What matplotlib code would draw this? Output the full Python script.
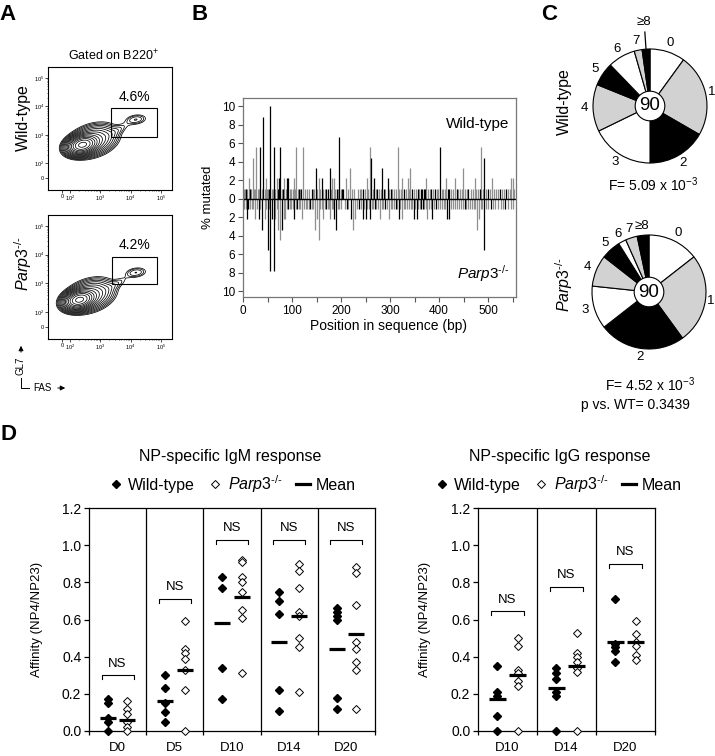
import numpy as np
import matplotlib
matplotlib.use('Agg')
import matplotlib.pyplot as plt
from matplotlib.lines import Line2D
from matplotlib.patches import Rectangle, Circle

plt.rcParams['font.family'] = ['Liberation Sans', 'DejaVu Sans']
plt.rcParams['mathtext.fontset'] = 'custom'
plt.rcParams['mathtext.rm'] = 'Liberation Sans'
plt.rcParams['mathtext.it'] = 'Liberation Sans:italic'
plt.rcParams['mathtext.bf'] = 'Liberation Sans:bold'

KO = r'$\mathit{Parp3}^{\mathit{\text{-/-}}}$'

# ---------------- A: flow plots (axis units: 2 = 10^2, 3 = 10^3 ...)
flow_xticks = [1.73, 2, 3, 4, 5]
flow_yticks = [1.48, 2, 3, 4, 5]
flow_ticklabels = ['0', '$10^2$', '$10^3$', '$10^4$', '$10^5$']
wt_main = [2.55, 2.70]
ko_main = [2.45, 2.48]
wt_gc = [4.18, 3.54]
ko_gc = [4.18, 3.38]
wt_gate = [3.36, 2.93, 4.86, 3.93]
ko_gate = [3.39, 2.97, 4.86, 3.93]
gate_pct = ['4.6%', '4.2%']

# ---------------- B: mutations per position (number of the 90 sequences)
n_seq = 90
wt_black = [(7, 1), (15, 1), (35, 5), (41, 8), (53, 1), (56, 9), (63, 5), (71, 1), (73, 2), (76, 5),
            (81, 1), (89, 2), (92, 2), (114, 1), (119, 1), (140, 1), (148, 3), (161, 2), (170, 1), (173, 1),
            (177, 3), (191, 1), (196, 6), (202, 1), (205, 1), (245, 1), (262, 4), (268, 2), (274, 1), (284, 3),
            (287, 1), (295, 2), (302, 1), (329, 1), (345, 1), (357, 1), (363, 1), (366, 1), (369, 1), (371, 1),
            (384, 1), (391, 1), (401, 5), (418, 1), (421, 1), (436, 1), (460, 1), (483, 1), (492, 4), (499, 1),
            (525, 1), (537, 1)]
wt_gray = [(3, 1), (5, 1), (9, 1), (12, 2), (17, 1), (20, 4), (23, 1), (25, 1), (27, 5), (30, 1),
           (32, 1), (38, 1), (44, 1), (46, 2), (49, 1), (51, 1), (59, 1), (61, 1), (66, 1), (69, 2),
           (79, 1), (84, 2), (87, 1), (95, 1), (98, 1), (101, 1), (104, 2), (107, 1), (109, 5), (112, 1),
           (117, 1), (122, 5), (126, 1), (130, 1), (134, 1), (143, 1), (145, 1), (151, 1), (155, 2), (158, 1),
           (164, 1), (167, 1), (180, 1), (182, 2), (185, 2), (188, 1), (193, 1), (199, 1), (210, 2), (214, 1),
           (218, 3), (222, 1), (226, 1), (234, 1), (238, 1), (241, 1), (248, 1), (253, 2), (256, 1), (260, 5),
           (265, 1), (271, 1), (278, 1), (281, 1), (290, 1), (298, 1), (305, 1), (309, 1), (313, 1), (316, 5),
           (319, 1), (322, 1), (325, 2), (332, 1), (336, 2), (339, 1), (341, 3), (349, 1), (353, 1), (360, 1),
           (374, 2), (378, 1), (381, 1), (388, 1), (395, 1), (398, 1), (405, 1), (409, 1), (412, 1), (415, 2),
           (424, 1), (428, 1), (432, 2), (439, 1), (442, 1), (446, 1), (449, 3), (453, 1), (457, 1), (466, 1),
           (469, 1), (473, 2), (476, 1), (480, 1), (486, 5), (489, 1), (495, 1), (503, 1), (509, 2), (513, 1),
           (517, 1), (521, 1), (529, 1), (533, 1), (541, 1), (544, 1), (546, 2), (550, 2), (553, 1)]
ko_black = [(8, 2), (11, 1), (32, 2), (39, 3), (50, 5), (56, 7), (59, 2), (63, 7), (80, 3), (92, 1),
            (104, 2), (111, 1), (137, 1), (170, 1), (186, 2), (189, 3), (212, 1), (221, 2), (237, 1), (244, 2),
            (251, 2), (260, 2), (269, 1), (290, 1), (312, 1), (318, 2), (348, 2), (354, 2), (364, 1), (367, 1),
            (386, 2), (393, 1), (416, 2), (421, 2), (452, 1), (492, 5), (505, 1), (535, 1)]
ko_gray = [(3, 1), (6, 1), (14, 1), (18, 1), (21, 1), (25, 2), (28, 1), (35, 1), (44, 2), (47, 1),
           (53, 1), (66, 2), (69, 1), (72, 3), (76, 4), (83, 2), (86, 2), (89, 1), (95, 1), (98, 1),
           (101, 1), (108, 1), (114, 1), (117, 1), (121, 2), (125, 1), (128, 1), (131, 1), (134, 1), (140, 1),
           (143, 1), (146, 3), (150, 2), (155, 4), (158, 1), (161, 1), (164, 2), (167, 1), (173, 1), (176, 1),
           (178, 2), (181, 1), (183, 1), (193, 1), (196, 1), (200, 1), (208, 1), (215, 1), (224, 3), (229, 2),
           (233, 1), (240, 1), (247, 1), (254, 1), (257, 1), (263, 1), (266, 1), (272, 1), (276, 1), (279, 2),
           (283, 1), (286, 1), (293, 1), (298, 2), (302, 1), (305, 1), (309, 1), (315, 1), (321, 1), (325, 2),
           (328, 1), (331, 1), (335, 1), (338, 1), (342, 1), (345, 1), (351, 1), (357, 1), (361, 1), (370, 1),
           (373, 1), (376, 2), (380, 1), (383, 1), (390, 1), (398, 1), (402, 1), (406, 1), (410, 1), (413, 1),
           (425, 1), (428, 1), (432, 1), (436, 1), (440, 1), (444, 1), (448, 1), (456, 1), (460, 1), (464, 1),
           (468, 1), (471, 1), (474, 1), (478, 3), (481, 2), (485, 1), (488, 1), (496, 1), (500, 1), (510, 1),
           (515, 1), (520, 1), (527, 1), (531, 1), (540, 1), (546, 1), (550, 1)]

# ---------------- C: mutations per sequence
pie_labels = ['0', '1', '2', '3', '4', '5', '6', '7', '≥8']
wt_mut = [9, 21, 15, 16, 12, 6, 7, 2, 2]
ko_mut = [13, 23, 22, 11, 8, 5, 2, 3, 3]
wt_F = r'F= 5.09 x 10$^{-3}$'
ko_F = r'F= 4.52 x 10$^{-3}$'
ko_p = 'p vs. WT= 0.3439'

# ---------------- D: affinity
igm_days = ['D0', 'D5', 'D10', 'D14', 'D20']
igm_wt = [[0.17, 0.15, 0.07, 0.05, 0.0],
          [0.30, 0.23, 0.15, 0.10, 0.05],
          [0.83, 0.77, 0.34, 0.17],
          [0.75, 0.70, 0.63, 0.22, 0.11],
          [0.66, 0.64, 0.62, 0.60, 0.18, 0.12]]
igm_ko = [[0.16, 0.12, 0.09, 0.05, 0.02, 0.0],
          [0.59, 0.44, 0.42, 0.39, 0.33, 0.22, 0.0],
          [0.92, 0.91, 0.83, 0.80, 0.75, 0.65, 0.61, 0.31],
          [0.90, 0.86, 0.77, 0.64, 0.62, 0.50, 0.45, 0.21],
          [0.88, 0.85, 0.68, 0.48, 0.44, 0.37, 0.33, 0.12]]
igm_wt_mean = [0.07, 0.16, 0.58, 0.48, 0.44]
igm_ko_mean = [0.06, 0.33, 0.72, 0.62, 0.52]
igm_ns = [0.30, 0.71, 1.03, 1.03, 1.03]

igg_days = ['D10', 'D14', 'D20']
igg_wt = [[0.35, 0.21, 0.19, 0.08, 0.0],
          [0.34, 0.31, 0.28, 0.21, 0.19, 0.0],
          [0.71, 0.47, 0.45, 0.43, 0.37]]
igg_ko = [[0.50, 0.46, 0.33, 0.31, 0.27, 0.24, 0.0],
          [0.53, 0.42, 0.40, 0.37, 0.34, 0.32, 0.0],
          [0.59, 0.52, 0.48, 0.46, 0.41, 0.38]]
igg_wt_mean = [0.17, 0.23, 0.48]
igg_ko_mean = [0.30, 0.35, 0.48]
igg_ns = [0.645, 0.775, 0.90]

W, H = 715, 756
fig = plt.figure(figsize=(W / 100, H / 100), dpi=100)


def box(x0, y0, x1, y1):
    return fig.add_axes([x0 / W, 1 - y1 / H, (x1 - x0) / W, (y1 - y0) / H])


def ftext(x, y, s, **kw):
    kw.setdefault('ha', 'center')
    kw.setdefault('va', 'center')
    fig.text(x / W, 1 - y / H, s, **kw)


for lab, x, y in [('A', 8, 15), ('B', 200, 15), ('C', 549, 15), ('D', 8, 435)]:
    ftext(x, y, lab, fontsize=16, fontweight='bold')


# ---------------- panel A
def gauss2(U, V, cx, cy, sx, sy, ang):
    a = np.deg2rad(ang)
    du, dv = U - cx, V - cy
    p = du * np.cos(a) + dv * np.sin(a)
    q = -du * np.sin(a) + dv * np.cos(a)
    return np.exp(-0.5 * ((p / sx) ** 2 + (q / sy) ** 2))


def flow(ax, main, gc, gate, pct):
    U, V = np.meshgrid(np.linspace(1.0, 5.5, 400), np.linspace(0.9, 5.5, 400))
    Z = gauss2(U, V, main[0] - 0.15, main[1] - 0.05, 0.24, 0.15, 15)
    Z += 0.15 * gauss2(U, V, main[0] + 0.2, main[1] + 0.1, 0.4, 0.25, 20)
    Z += 0.012 * gauss2(U, V, (main[0] + gc[0]) / 2 + 0.2, (main[1] + gc[1]) / 2 + 0.05, 0.3, 0.1, 30)
    Z += 0.022 * gauss2(U, V, gc[0], gc[1], 0.22, 0.11, 8)
    ax.contour(U, V, Z, levels=np.geomspace(0.008, 0.95, 15), colors='k', linewidths=0.55)
    ax.add_patch(Rectangle((gate[0], gate[1]), gate[2] - gate[0], gate[3] - gate[1],
                           fill=False, lw=0.8, ec='k'))
    ax.text(4.14, 4.32, pct, ha='center', va='center', fontsize=10)
    ax.set_xlim(1.27, 5.37)
    ax.set_ylim(1.07, 5.38)
    ax.set_xticks(flow_xticks, flow_ticklabels)
    ax.set_yticks(flow_yticks, flow_ticklabels)
    minor = [d + np.log10(k) for d in (2, 3, 4) for k in range(2, 10)]
    ax.set_xticks(minor, minor=True)
    ax.set_yticks(minor, minor=True)
    ax.tick_params(labelsize=4, length=2, width=0.5, pad=1)
    ax.tick_params(which='minor', length=1, width=0.4)
    for s in ax.spines.values():
        s.set_linewidth(0.8)


axA1 = box(48, 67, 172, 190)
flow(axA1, wt_main, wt_gc, wt_gate, gate_pct[0])
axA2 = box(48, 215, 172, 339)
flow(axA2, ko_main, ko_gc, ko_gate, gate_pct[1])
ftext(113, 56, r'Gated on B220$^{+}$', fontsize=9)
ftext(23, 118, 'Wild-type', fontsize=11.5, rotation=90)
ftext(23, 264, KO, fontsize=11.5, rotation=90)
ftext(21, 366, 'GL7', fontsize=7, rotation=90)
ftext(42, 388, 'FAS', fontsize=7)
fig.add_artist(Line2D([21 / W, 21 / W, 29 / W], [1 - 378 / H, 1 - 388 / H, 1 - 388 / H], color='k', lw=0.7))
plt.annotate('', xy=(21, H - 343), xytext=(21, H - 355), xycoords='figure pixels',
             arrowprops=dict(arrowstyle='-|>', lw=0.7, color='k', mutation_scale=7))
plt.annotate('', xy=(68, H - 388), xytext=(55, H - 388), xycoords='figure pixels',
             arrowprops=dict(arrowstyle='-|>', lw=0.7, color='k', mutation_scale=7))

# ---------------- panel B
axB = box(243, 98, 516, 297)
gray = '#8f8f8f'
for series, sign, col in [(wt_gray, 1, gray), (ko_gray, -1, gray), (wt_black, 1, 'k'), (ko_black, -1, 'k')]:
    pos = np.array([p for p, n in series])
    pct = np.array([n for p, n in series]) * 100.0 / n_seq
    axB.vlines(pos, 0, sign * pct, colors=col, lw=0.9)
axB.axhline(0, color='k', lw=1.0)
axB.set_xlim(0, 557)
axB.set_ylim(-10.6, 10.9)
axB.set_xticks(range(0, 501, 100))
axB.set_xticks(list(range(50, 551, 100)), minor=True)
yt = list(range(-10, 11, 2))
axB.set_yticks(yt, [str(abs(v)) for v in yt])
axB.tick_params(which='both', direction='out', length=3.5, width=0.8, color='#555555', labelsize=8.5, pad=2)
for s in axB.spines.values():
    s.set_color('#777777')
    s.set_linewidth(0.9)
axB.text(0.975, 0.87, 'Wild-type', transform=axB.transAxes, ha='right', va='center', fontsize=11)
axB.text(0.975, 0.12, KO, transform=axB.transAxes, ha='right', va='center', fontsize=11)
ftext(208, 197, '% mutated', fontsize=9.5, rotation=90)
ftext(388, 326, 'Position in sequence (bp)', fontsize=10)

# ---------------- panel C
pie_colors = ['white', '#d2d2d2', 'black'] * 3


def pie(cx, cy, counts, leader):
    r = 57
    half = 1.5 * r
    ax = box(cx - half, cy - half, cx + half, cy + half)
    ax.pie(counts, colors=pie_colors, startangle=90, counterclock=False, radius=1,
           wedgeprops=dict(edgecolor='k', linewidth=0.8))
    ax.add_patch(Circle((0, 0), 0.26, fc='white', ec='k', lw=0.8, zorder=5))
    ax.text(0, 0, '90', ha='center', va='center', fontsize=13.5, zorder=6)
    total = float(sum(counts))
    cum = np.cumsum([0] + counts[:-1])
    for i, lab in enumerate(pie_labels):
        b = np.deg2rad(360 * (cum[i] + counts[i] / 2) / total)
        rr = 1.16
        if leader and i == len(pie_labels) - 1:
            ax.plot([np.sin(b) * 0.98, np.sin(b) * 1.3], [np.cos(b) * 0.98, np.cos(b) * 1.3], 'k', lw=0.9)
            rr = 1.47
        ax.text(min(rr * np.sin(b), 1.08), rr * np.cos(b), lab, ha='center', va='center', fontsize=9.5)
    ax.set_xlim(-1.5, 1.5)
    ax.set_ylim(-1.5, 1.5)
    ax.set_aspect('equal')
    ax.axis('off')


pie(650, 106, wt_mut, True)
pie(649, 292, ko_mut, False)
ftext(564, 102, 'Wild-type', fontsize=11.5, rotation=90)
ftext(564, 285, KO, fontsize=11.5, rotation=90)
ftext(653, 185, wt_F, fontsize=10)
ftext(650, 385, ko_F, fontsize=10)
ftext(635, 405, ko_p, fontsize=10)


# ---------------- panel D
def affinity(ax, days, wt, ko, wt_mean, ko_mean, ns):
    n = len(days)
    for i in range(n):
        xw, xk = i + 0.33, i + 0.67
        ax.plot([xw] * len(wt[i]), wt[i], 'D', ms=4.2, mfc='k', mec='k', clip_on=False, zorder=3)
        ax.plot([xk] * len(ko[i]), ko[i], 'D', ms=4.2, mfc='w', mec='k', mew=0.7, clip_on=False, zorder=3)
        ax.hlines([wt_mean[i]], xw - 0.14, xw + 0.14, colors='k', lw=2.3, zorder=4)
        ax.hlines([ko_mean[i]], xk - 0.14, xk + 0.14, colors='k', lw=2.3, zorder=4)
        y = ns[i]
        ax.plot([i + 0.22, i + 0.22, i + 0.78, i + 0.78], [y - 0.022, y, y, y - 0.022], 'k', lw=0.8)
        ax.text(i + 0.5, y + 0.03, 'NS', ha='center', va='bottom', fontsize=9.5)
    for i in range(1, n):
        ax.axvline(i, color='k', lw=0.9)
    ax.set_xlim(0, n)
    ax.set_ylim(0, 1.2)
    ax.set_yticks(np.arange(0, 1.21, 0.2), ['%.1f' % v for v in np.arange(0, 1.21, 0.2)])
    ax.set_xticks(np.arange(n) + 0.5, days)
    ax.set_xticks(range(n + 1), minor=True)
    ax.tick_params(axis='y', direction='out', length=3.5, width=0.9, labelsize=10, pad=2)
    ax.tick_params(axis='x', which='major', length=0, labelsize=9.5, pad=8)
    ax.tick_params(axis='x', which='minor', direction='out', length=3, width=0.9)
    for s in ax.spines.values():
        s.set_linewidth(0.9)


axD1 = box(89, 508, 375, 731)
affinity(axD1, igm_days, igm_wt, igm_ko, igm_wt_mean, igm_ko_mean, igm_ns)
axD2 = box(478, 508, 655, 731)
affinity(axD2, igg_days, igg_wt, igg_ko, igg_wt_mean, igg_ko_mean, igg_ns)
ftext(37, 619, 'Affinity (NP4/NP23)', fontsize=9.5, rotation=90)
ftext(425, 619, 'Affinity (NP4/NP23)', fontsize=9.5, rotation=90)
ftext(230, 457, 'NP-specific IgM response', fontsize=11.5)
ftext(560, 457, 'NP-specific IgG response', fontsize=11.5)

handles = [Line2D([], [], marker='D', ls='none', ms=4, mfc='k', mec='k'),
           Line2D([], [], marker='D', ls='none', ms=4, mfc='w', mec='k', mew=0.7),
           Line2D([], [], color='k', lw=2.3)]
labels = ['Wild-type', KO, 'Mean']
for cx in (232, 558):
    fig.legend(handles, labels, loc='center', bbox_to_anchor=(cx / W, 1 - 484 / H), ncol=3,
               frameon=False, fontsize=11.5, handlelength=0.9, handletextpad=0.35,
               columnspacing=0.8, borderpad=0, borderaxespad=0)

fig.savefig('out.png', dpi=100)
